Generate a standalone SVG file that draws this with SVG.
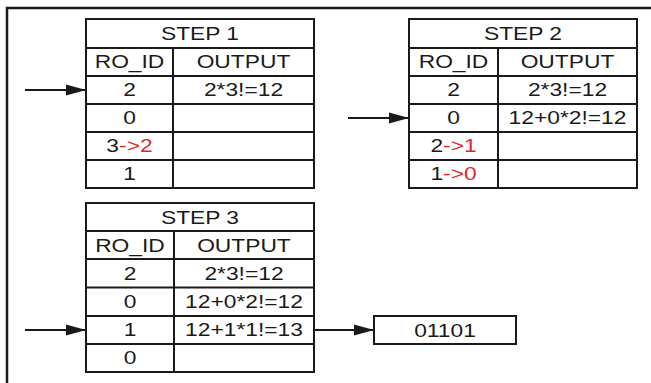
<svg xmlns="http://www.w3.org/2000/svg" width="651" height="383" viewBox="0 0 651 383">
  <style>
    .cell { fill: #ffffff; stroke: #1a1a1a; stroke-width: 2; }
    .grid { stroke: #1a1a1a; stroke-width: 2; fill: none; }
    .frame { stroke: #1a1a1a; stroke-width: 2.5; fill: none; }
    .t { font-family: "Liberation Sans", Arial, sans-serif; font-size: 19px; fill: #1a1a1a; text-anchor: middle;
         transform-box: fill-box; transform-origin: center; transform: scaleX(1.2); }
    .red { fill: #e0262b; }
    .wire { stroke: #1a1a1a; stroke-width: 2; fill: none; }
  </style>
  <defs>
    <marker id="arrow" markerUnits="userSpaceOnUse" markerWidth="21" markerHeight="12" refX="20" refY="6" orient="auto">
      <path d="M0,0.5 L20,6 L0,11.5 z" fill="#1a1a1a"/>
    </marker>
  </defs>

  <rect width="651" height="383" fill="#ffffff"/>

  <!-- outer frame: top and left edges only -->
  <path class="frame" d="M7,383 L7,8 L651,8"/>

  <!-- STEP 1 table -->
  <g id="step1">
    <rect class="cell" x="86" y="19" width="228" height="169"/>
    <path class="grid" d="M86,48 H314 M86,76 H314 M86,104 H314 M86,132 H314 M86,160 H314 M173,48 V188"/>
    <text class="t" x="200" y="40.5">STEP 1</text>
    <text class="t" x="129.5" y="68.5">RO_ID</text>
    <text class="t" x="243.5" y="68.5">OUTPUT</text>
    <text class="t" x="129.5" y="96">2</text>
    <text class="t" x="243.5" y="96">2*3!=12</text>
    <text class="t" x="129.5" y="124">0</text>
    <text class="t" x="129.5" y="152">3<tspan class="red">-&gt;2</tspan></text>
    <text class="t" x="129.5" y="180">1</text>
  </g>

  <!-- STEP 2 table -->
  <g id="step2">
    <rect class="cell" x="409" y="19" width="228" height="169"/>
    <path class="grid" d="M409,48 H637 M409,76 H637 M409,104 H637 M409,132 H637 M409,160 H637 M498,48 V188"/>
    <text class="t" x="523" y="40.5">STEP 2</text>
    <text class="t" x="453.5" y="68.5">RO_ID</text>
    <text class="t" x="567.5" y="68.5">OUTPUT</text>
    <text class="t" x="453.5" y="96">2</text>
    <text class="t" x="567.5" y="96">2*3!=12</text>
    <text class="t" x="453.5" y="124">0</text>
    <text class="t" x="567.5" y="124">12+0*2!=12</text>
    <text class="t" x="453.5" y="152">2<tspan class="red">-&gt;1</tspan></text>
    <text class="t" x="453.5" y="180">1<tspan class="red">-&gt;0</tspan></text>
  </g>

  <!-- STEP 3 table -->
  <g id="step3">
    <rect class="cell" x="86" y="203" width="228" height="169"/>
    <path class="grid" d="M86,231 H314 M86,259 H314 M86,287.5 H314 M86,316 H314 M86,344 H314 M174,231 V372"/>
    <text class="t" x="200" y="224.5">STEP 3</text>
    <text class="t" x="130" y="252.5">RO_ID</text>
    <text class="t" x="244" y="252.5">OUTPUT</text>
    <text class="t" x="130" y="280">2</text>
    <text class="t" x="244" y="280">2*3!=12</text>
    <text class="t" x="130" y="308">0</text>
    <text class="t" x="244" y="308">12+0*2!=12</text>
    <text class="t" x="130" y="336.5">1</text>
    <text class="t" x="244" y="336.5">12+1*1!=13</text>
    <text class="t" x="130" y="364.5">0</text>
  </g>

  <!-- result box -->
  <g id="result">
    <rect class="cell" x="374" y="316" width="142" height="28"/>
    <text class="t" x="445" y="337">01101</text>
  </g>

  <!-- connectors -->
  <g id="connectors">
    <line class="wire" x1="25" y1="90" x2="86" y2="90" marker-end="url(#arrow)"/>
    <line class="wire" x1="348" y1="118" x2="409" y2="118" marker-end="url(#arrow)"/>
    <line class="wire" x1="25" y1="330" x2="86" y2="330" marker-end="url(#arrow)"/>
    <line class="wire" x1="314" y1="330" x2="374" y2="330" marker-end="url(#arrow)"/>
  </g>
</svg>
